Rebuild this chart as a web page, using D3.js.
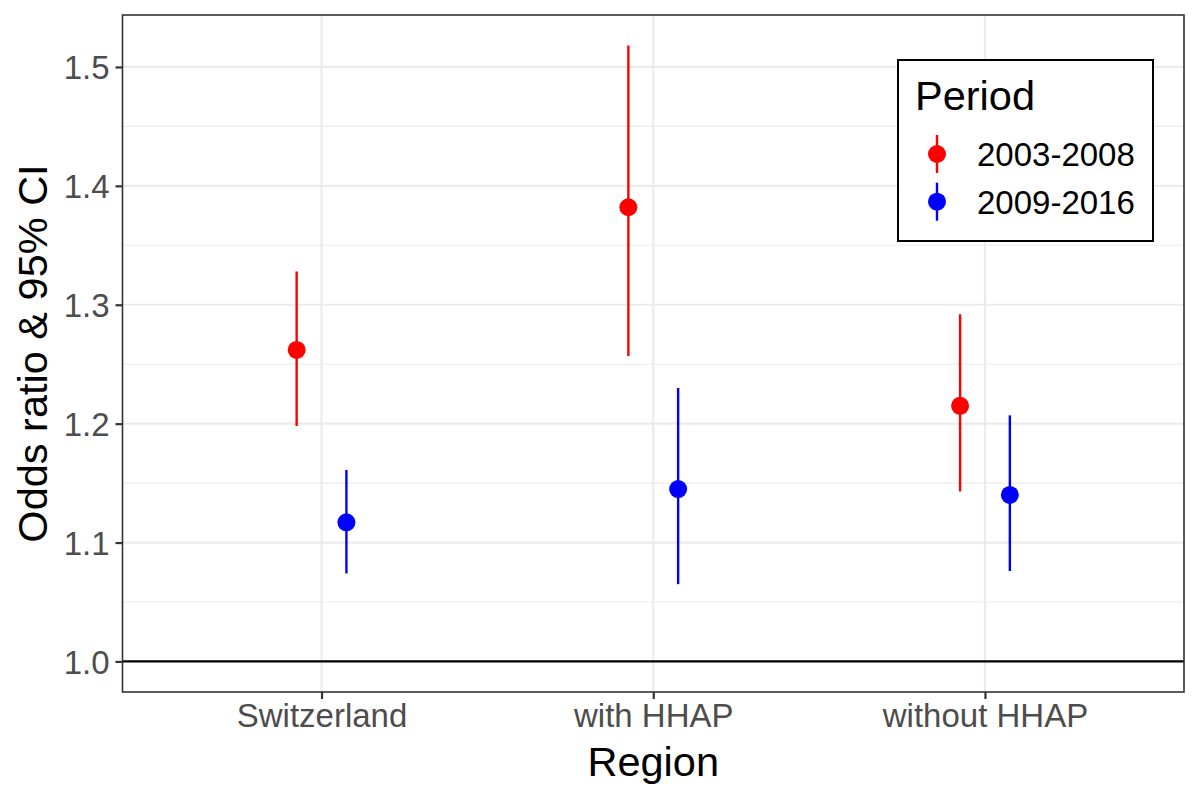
<!DOCTYPE html>
<html><head><meta charset="utf-8">
<script src="https://cdn.jsdelivr.net/npm/d3@7"></script>
<style>body{margin:0;background:#fff;} svg{display:block;}</style>
</head><body>
<script>
const regions = ["Switzerland", "with HHAP", "without HHAP"];
const periods = ["2003-2008", "2009-2016"];
const periodColors = ["#FF0000", "#0000FF"];
const orP1 = [1.262, 1.382, 1.215];
const loP1 = [1.198, 1.257, 1.143];
const hiP1 = [1.328, 1.518, 1.292];
const orP2 = [1.117, 1.145, 1.140];
const loP2 = [1.074, 1.065, 1.076];
const hiP2 = [1.161, 1.230, 1.207];
const yTicks = [1.0, 1.1, 1.2, 1.3, 1.4, 1.5];
const yMinor = [1.05, 1.15, 1.25, 1.35, 1.45];

const series = [
  {period: periods[0], color: periodColors[0], or: orP1, lo: loP1, hi: hiP1, off: -0.075},
  {period: periods[1], color: periodColors[1], or: orP2, lo: loP2, hi: hiP2, off: 0.075}
];

const W = 1200, H = 800;
const L = 122.5, R = 1184, T = 15, B = 692;
const svg = d3.select("body").append("svg").attr("width", W).attr("height", H);
const font = "Liberation Sans, Arial, sans-serif";
const tickFs = 33, titleFs = 41.5;

const x = d3.scaleLinear().domain([0.4, 3.6]).range([L, R]);
const y = d3.scaleLinear().domain([0.9743, 1.5437]).range([B, T]);

// grid
const g = svg.append("g");
g.selectAll(".ymin").data(yMinor).enter().append("line")
  .attr("x1", L).attr("x2", R).attr("y1", d => y(d)).attr("y2", d => y(d))
  .attr("stroke", "#EBEBEB").attr("stroke-width", 1.1);
g.selectAll(".ymaj").data(yTicks).enter().append("line")
  .attr("x1", L).attr("x2", R).attr("y1", d => y(d)).attr("y2", d => y(d))
  .attr("stroke", "#EBEBEB").attr("stroke-width", 2.2);
g.selectAll(".xmaj").data(regions).enter().append("line")
  .attr("x1", (d, i) => x(i + 1)).attr("x2", (d, i) => x(i + 1)).attr("y1", T).attr("y2", B)
  .attr("stroke", "#EBEBEB").attr("stroke-width", 2.2);

// reference line
svg.append("line").attr("x1", L).attr("x2", R).attr("y1", y(1)).attr("y2", y(1))
  .attr("stroke", "#000").attr("stroke-width", 2.2);

// error bars and points
series.forEach(s => {
  const gg = svg.append("g");
  gg.selectAll("line").data(regions).enter().append("line")
    .attr("x1", (d, i) => x(i + 1 + s.off)).attr("x2", (d, i) => x(i + 1 + s.off))
    .attr("y1", (d, i) => y(s.lo[i])).attr("y2", (d, i) => y(s.hi[i]))
    .attr("stroke", s.color).attr("stroke-width", 2.4);
  gg.selectAll("circle").data(regions).enter().append("circle")
    .attr("cx", (d, i) => x(i + 1 + s.off)).attr("cy", (d, i) => y(s.or[i]))
    .attr("r", 9).attr("fill", s.color);
});

// panel border
svg.append("rect").attr("x", L).attr("y", T).attr("width", R - L).attr("height", B - T)
  .attr("fill", "none").attr("stroke", "#333333").attr("stroke-width", 1.6);

// y axis
const ya = svg.append("g").attr("transform", `translate(${L},0)`)
  .call(d3.axisLeft(y).tickValues(yTicks).tickFormat(d3.format(".1f")).tickSize(7).tickPadding(6));
ya.select(".domain").remove();
ya.selectAll(".tick line").attr("stroke", "#333333").attr("stroke-width", 2.2);
ya.selectAll(".tick text").attr("fill", "#4D4D4D").attr("font-size", tickFs).attr("font-family", font).attr("dy", "0.36em");

// x axis
const xa = svg.append("g").attr("transform", `translate(0,${B})`)
  .call(d3.axisBottom(x).tickValues([1, 2, 3]).tickFormat(d => regions[d - 1]).tickSize(7).tickPadding(5));
xa.select(".domain").remove();
xa.selectAll(".tick line").attr("stroke", "#333333").attr("stroke-width", 2.2);
xa.selectAll(".tick text").attr("fill", "#4D4D4D").attr("font-size", tickFs).attr("font-family", font).attr("dy", "0.71em");

// axis titles
svg.append("text").attr("x", (L + R) / 2).attr("y", 776).attr("text-anchor", "middle")
  .attr("font-size", titleFs).attr("font-family", font).attr("fill", "#000").text("Region");
svg.append("text").attr("transform", `translate(47,${(T + B) / 2}) rotate(-90)`)
  .attr("text-anchor", "middle").attr("font-size", titleFs).attr("font-family", font).attr("fill", "#000")
  .text("Odds ratio & 95% CI");

// legend
const lg = svg.append("g");
lg.append("rect").attr("x", 898).attr("y", 60).attr("width", 255).attr("height", 181)
  .attr("fill", "#fff").attr("stroke", "#000").attr("stroke-width", 2);
lg.append("text").attr("x", 915).attr("y", 110).attr("font-size", titleFs).attr("font-family", font)
  .attr("fill", "#000").text("Period");
series.forEach((s, i) => {
  const cy = 154 + i * 47.7;
  lg.append("line").attr("x1", 937).attr("x2", 937).attr("y1", cy - 19).attr("y2", cy + 19)
    .attr("stroke", s.color).attr("stroke-width", 2.4);
  lg.append("circle").attr("cx", 937).attr("cy", cy).attr("r", 9).attr("fill", s.color);
  lg.append("text").attr("x", 977).attr("y", cy).attr("dy", "0.36em").attr("font-size", tickFs)
    .attr("font-family", font).attr("fill", "#000").text(s.period);
});
</script>
</body></html>
